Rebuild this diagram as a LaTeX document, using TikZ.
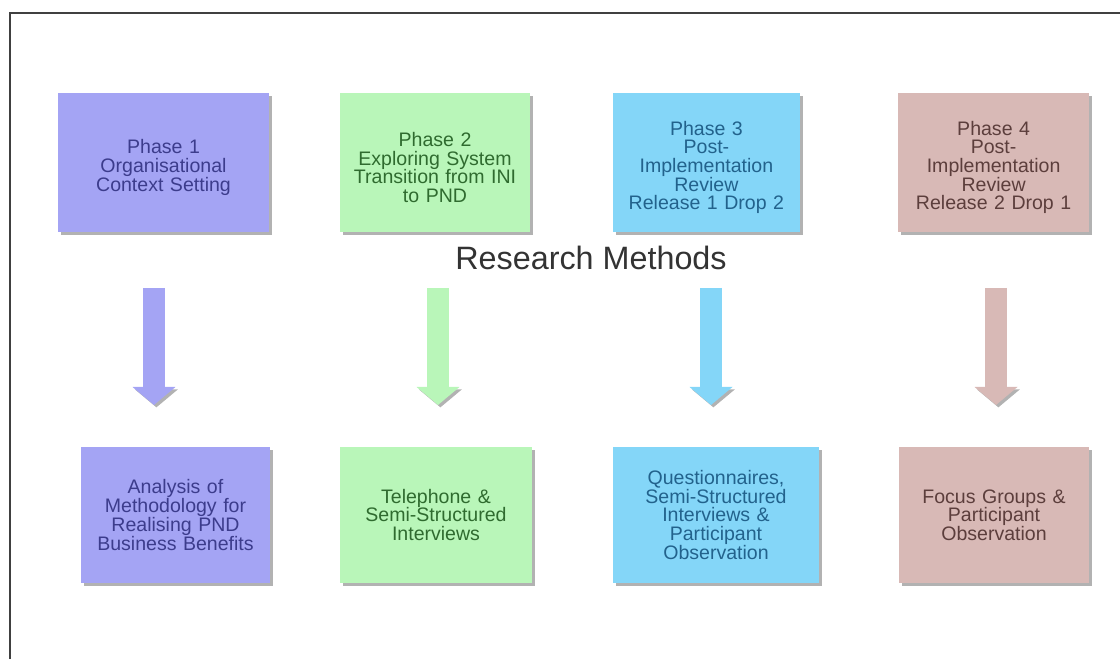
\documentclass[tikz,border=0pt]{standalone}
\usepackage{fontspec}
\setmainfont{Liberation Sans}
\usetikzlibrary{arrows.meta,shadows}

\definecolor{ctxfill}{HTML}{A4A4F4}
\definecolor{ctxtext}{HTML}{3C3C8C}
\definecolor{trfill}{HTML}{B9F6B9}
\definecolor{trtext}{HTML}{2F6B2F}
\definecolor{rvafill}{HTML}{84D6F8}
\definecolor{rvatext}{HTML}{22628C}
\definecolor{rvbfill}{HTML}{D8B9B6}
\definecolor{rvbtext}{HTML}{5C3E3C}

\begin{document}
\begin{tikzpicture}[
    box/.style={inner sep=0pt, text width=4.3cm, align=center, font=\fontsize{13.9}{13.3}\selectfont, drop shadow={shadow xshift=0.07cm, shadow yshift=-0.07cm, fill=black, opacity=0.3}},
    phasebox/.style={box, minimum height=3.475cm, execute at begin node={\rule{0pt}{17pt}}},
    methodbox/.style={box, minimum height=3.4cm},
    arr/.style={line width=0.55cm, draw=#1, -{Triangle[width=1.05cm, length=0.45cm]}, preaction={draw=black!30, transform canvas={shift={(0.06,-0.06)}}}},
]
\useasboundingbox (0,0) rectangle (28,16.475);

% frame
\draw[line width=0.05cm, black!75] (0.25,0) -- (0.25,16.15) -- (28,16.15);

\node[phasebox, fill=ctxfill, text=ctxtext, minimum width=5.275cm] (ctx) at (4.0875,12.4125) {Phase 1\\Organisational\\Context Setting};
\node[phasebox, fill=trfill, text=trtext, minimum width=4.75cm] (trans) at (10.875,12.4125) {Phase 2\\Exploring System\\Transition from INI\\to PND};
\node[phasebox, fill=rvafill, text=rvatext, minimum width=4.675cm] (rev1) at (17.66,12.4125) {Phase 3\\Post-\\Implementation\\Review\\Release 1 Drop 2};
\node[phasebox, fill=rvbfill, text=rvbtext, minimum width=4.775cm] (rev2) at (24.84,12.4125) {Phase 4\\Post-\\Implementation\\Review\\Release 2 Drop 1};

\node[font=\fontsize{23}{27}\selectfont, text=black!80] (methods) at (14.775,10.025) {Research Methods};

\node[methodbox, fill=ctxfill, text=ctxtext, minimum width=4.725cm] (analysis) at (4.3875,3.6) {Analysis of\\Methodology for\\Realising PND\\Business Benefits};
\node[methodbox, fill=trfill, text=trtext, minimum width=4.8cm] (phone) at (10.9,3.6) {Telephone \&\\Semi-Structured\\Interviews};
\node[methodbox, fill=rvafill, text=rvatext, minimum width=5.15cm] (quest) at (17.9,3.6) {Questionnaires,\\Semi-Structured\\Interviews \&\\Participant\\Observation};
\node[methodbox, fill=rvbfill, text=rvbtext, minimum width=4.75cm] (focus) at (24.85,3.6) {Focus Groups \&\\Participant\\Observation};

% arrow ends
\coordinate (a1) at (3.85,9.275);
\coordinate (b1) at (3.85,6.35);
\coordinate (a2) at (10.95,9.275);
\coordinate (b2) at (10.95,6.35);
\coordinate (a3) at (17.775,9.275);
\coordinate (b3) at (17.775,6.35);
\coordinate (a4) at (24.9,9.275);
\coordinate (b4) at (24.9,6.35);

\draw[arr=ctxfill] (a1) -- (b1);
\draw[arr=trfill] (a2) -- (b2);
\draw[arr=rvafill] (a3) -- (b3);
\draw[arr=rvbfill] (a4) -- (b4);

\end{tikzpicture}
\end{document}
